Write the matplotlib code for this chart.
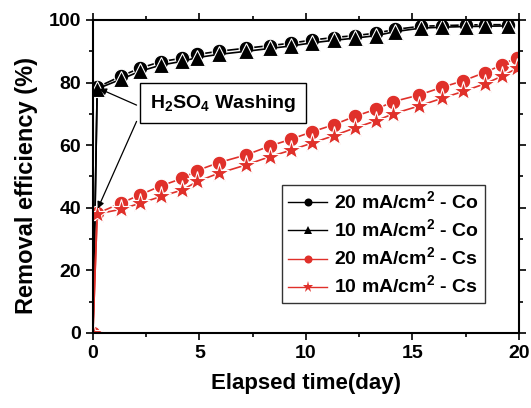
import numpy as np
import matplotlib
matplotlib.use("Agg")
import matplotlib.pyplot as plt
from matplotlib.ticker import MultipleLocator

plt.rcParams["font.family"] = ["Liberation Sans", "DejaVu Sans"]
plt.rcParams["font.weight"] = "bold"
plt.rcParams["mathtext.fontset"] = "custom"
plt.rcParams["mathtext.rm"] = "Liberation Sans:bold"
plt.rcParams["mathtext.bf"] = "Liberation Sans:bold"

# Co series (days, removal %)
co_days = [0, 0.2, 1.3, 2.2, 3.2, 4.2, 4.9, 5.9, 7.2, 8.3, 9.3, 10.3,
           11.3, 12.3, 13.3, 14.2, 15.4, 16.4, 17.5, 18.4, 19.5]
co_20 = [0, 78.5, 82.0, 84.6, 86.7, 87.8, 89.0, 90.0, 91.0, 91.8, 92.6, 93.6,
         94.4, 95.0, 95.8, 97.0, 98.0, 98.2, 98.4, 98.5, 98.5]
co_10 = [0, 78.0, 81.0, 83.6, 85.6, 86.8, 88.0, 89.0, 90.0, 90.9, 91.7, 92.7,
         93.5, 94.2, 95.0, 96.3, 97.4, 97.7, 97.9, 98.0, 98.1]

# Cs series
cs_days = [0, 0.2, 1.3, 2.2, 3.2, 4.2, 4.9, 5.9, 7.2, 8.3, 9.3, 10.3,
           11.3, 12.3, 13.3, 14.1, 15.3, 16.4, 17.4, 18.4, 19.2, 19.9]
cs_20 = [0, 38.2, 41.4, 44.1, 47.0, 49.4, 51.9, 54.4, 56.9, 59.7, 61.9, 64.3,
         66.5, 69.2, 71.5, 73.9, 76.0, 78.5, 80.6, 83.2, 85.6, 88.0]
cs_10 = [0, 38.0, 39.5, 41.4, 43.6, 45.7, 48.4, 51.0, 53.7, 56.3, 58.4, 60.7,
         63.0, 65.5, 67.8, 70.0, 72.5, 75.0, 77.2, 79.6, 82.0, 84.5]

labels = [r"20 mA/cm$^2$ - Co", r"10 mA/cm$^2$ - Co",
          r"20 mA/cm$^2$ - Cs", r"10 mA/cm$^2$ - Cs"]

RED = "#e0302a"

fig = plt.figure(figsize=(5.31, 4.08), dpi=100)
ax = fig.add_axes([0.175, 0.184, 0.802, 0.767])

kw = dict(lw=1.2, markeredgecolor="white", markeredgewidth=0.8)
ax.plot(co_days, co_20, "-o", color="black", ms=10.5, label=labels[0], **kw)
ax.plot(co_days, co_10, "-^", color="black", ms=11.5, label=labels[1], **kw)
ax.plot(cs_days, cs_20, "-o", color=RED, ms=10.5, label=labels[2], **kw)
ax.plot(cs_days, cs_10, "-*", color=RED, ms=15, label=labels[3], **kw)

ax.set_xlim(0, 20)
ax.set_ylim(0, 100)
ax.xaxis.set_major_locator(MultipleLocator(5))
ax.xaxis.set_minor_locator(MultipleLocator(2.5))
ax.yaxis.set_major_locator(MultipleLocator(20))
ax.yaxis.set_minor_locator(MultipleLocator(10))
ax.tick_params(which="both", direction="out", top=True, right=True,
               labelsize=14, width=1.2)
ax.tick_params(which="major", length=5)
ax.tick_params(which="minor", length=3)
for s in ax.spines.values():
    s.set_linewidth(1.5)

ax.set_xlabel("Elapsed time(day)", fontsize=16, fontweight="bold", labelpad=8)
ax.set_ylabel("Removal efficiency (%)", fontsize=17, fontweight="bold")
ax.yaxis.set_label_coords(-0.128, 0.47)

# annotation box with two arrows
ax.text(6.1, 73.4, r"H$_2$SO$_4$ Washing", fontsize=14, fontweight="bold",
        ha="center", va="center",
        bbox=dict(boxstyle="square,pad=0.5", fc="white", ec="black", lw=1))
arrow = dict(arrowstyle="-|>", color="black", lw=0.9,
             shrinkA=0, shrinkB=1, mutation_scale=10)
ax.annotate("", xy=(0.25, 78.2), xytext=(2.05, 72.8), arrowprops=arrow)
ax.annotate("", xy=(0.2, 39.3), xytext=(2.05, 67.6), arrowprops=arrow)

leg = ax.legend(loc="lower right", bbox_to_anchor=(0.92, 0.095), fontsize=14,
                frameon=True, fancybox=False, edgecolor="black",
                handlelength=2.0, handletextpad=0.35, labelspacing=0.28,
                borderpad=0.3, borderaxespad=0, markerscale=0.55)
leg.get_frame().set_linewidth(1)
for h in leg.legend_handles:
    h.set_markeredgewidth(0)
    h.set_linewidth(1.0)
for t in leg.get_texts():
    t.set_fontweight("bold")

fig.savefig("out.png", dpi=100)
